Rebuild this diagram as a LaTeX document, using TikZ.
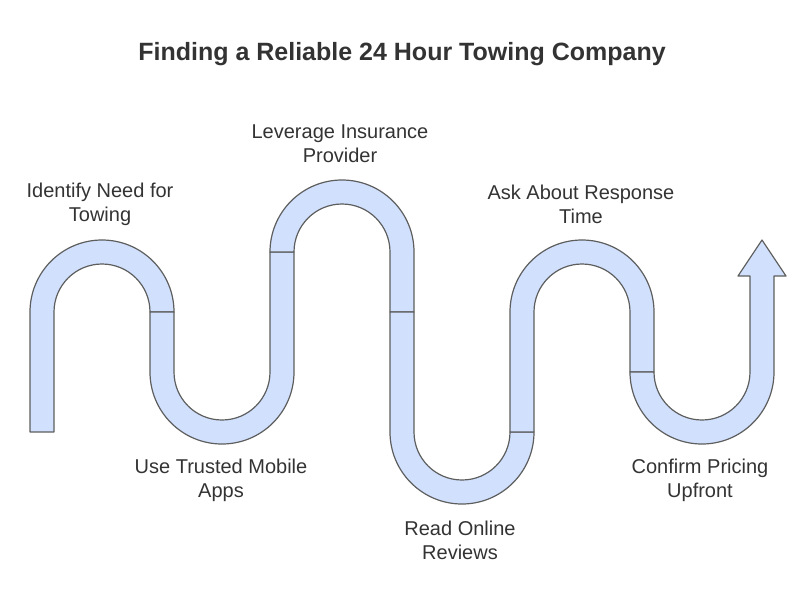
\documentclass[tikz,border=0pt]{standalone}
\usepackage{fontspec}
\setmainfont{Liberation Sans}
\definecolor{BandBlue}{HTML}{D0E0FD}
\definecolor{EdgeGray}{HTML}{5E5E5E}
\definecolor{TextGray}{HTML}{333333}

\begin{document}
\begin{tikzpicture}[x=1pt,y=-1pt, every node/.style={font=\fontsize{20}{24}\selectfont, text=TextGray, align=center},
  band/.style={fill=BandBlue, draw=EdgeGray, line width=1.2pt, line join=round}]
  \useasboundingbox (0,0) rectangle (811,590);
  \node (title) at (402,54) {\fontsize{25}{28}\selectfont\bfseries Finding a Reliable 24 Hour Towing Company};
  % winding road, one piece per step
  \draw[band] (30,432) -- (30,312) arc[start angle=180, end angle=360, radius=72] -- (150,312)
    arc[start angle=0, end angle=-180, radius=48] -- (54,432) -- cycle;
  \draw[band] (150,312) -- (150,372) arc[start angle=180, end angle=0, radius=72] -- (294,252) -- (270,252)
    -- (270,372) arc[start angle=0, end angle=180, radius=48] -- (174,312) -- cycle;
  \draw[band] (270,252) arc[start angle=180, end angle=360, radius=72] -- (414,312) -- (390,312)
    -- (390,252) arc[start angle=0, end angle=-180, radius=48] -- cycle;
  \draw[band] (390,312) -- (390,432) arc[start angle=180, end angle=0, radius=72] -- (510,432)
    arc[start angle=0, end angle=180, radius=48] -- (414,312) -- cycle;
  \draw[band] (510,432) -- (510,312) arc[start angle=180, end angle=360, radius=72] -- (654,372) -- (630,372)
    -- (630,312) arc[start angle=0, end angle=-180, radius=48] -- (534,432) -- cycle;
  \draw[band] (630,372) arc[start angle=180, end angle=0, radius=72] -- (774,276) -- (786,276) -- (762,240)
    -- (738,276) -- (750,276) -- (750,372) arc[start angle=0, end angle=180, radius=48] -- cycle;
  % step labels
  \node (identify) at (100,204) {Identify Need for\\Towing};
  \node (trusted) at (221,480) {Use Trusted Mobile\\Apps};
  \node (leverage) at (340,144) {Leverage Insurance\\Provider};
  \node (reviews) at (460,540) {Read Online\\Reviews};
  \node (response) at (581,204) {Ask About Response\\Time};
  \node (pricing) at (700,480) {Confirm Pricing\\Upfront};
\end{tikzpicture}
\end{document}
